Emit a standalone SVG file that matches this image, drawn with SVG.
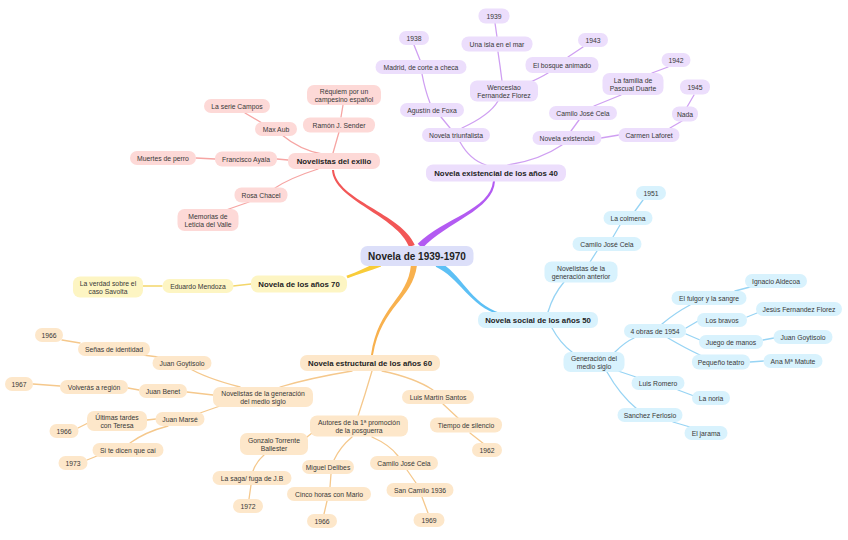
<svg xmlns="http://www.w3.org/2000/svg" width="848" height="540" viewBox="0 0 848 540">
<style>
text{font-family:"Liberation Sans",Arial,Helvetica,sans-serif;font-size:6.8px;fill:#383838;text-anchor:middle;dominant-baseline:central}
.main text{font-weight:bold;font-size:7.8px;fill:#232323}
#center text{font-weight:bold;font-size:10px;fill:#232323}
rect{rx:7px;ry:7px}
#center rect{fill:#dcdff9}
.red rect{fill:#fdd9d7}
.pur rect{fill:#ecdefc}
.yel rect{fill:#fdf5c3}
.blu rect{fill:#d8f2fd}
.ora rect{fill:#fde7ca}
#connectors path.c{fill:none;stroke-width:1.3;stroke-linecap:round}
.cr{stroke:#f6a5a3}
.cp{stroke:#cf9ff2}
.cy{stroke:#f3d66a}
.cb{stroke:#97d4f4}
.co{stroke:#f5c88c}
.br{stroke:none}
</style>
<rect x="0" y="0" width="848" height="540" fill="#ffffff" style="rx:0"/>
<g id="connectors">
<!-- red -->
<path class="c cr" d="M333,153 L339,132"/>
<path class="c cr" d="M341,117 L343,105"/>
<path class="c cr" d="M322,154 Q300,150 282,135"/>
<path class="c cr" d="M262,123 L245,113"/>
<path class="c cr" d="M288,160 L277,159"/>
<path class="c cr" d="M215,159 L196,158"/>
<path class="c cr" d="M318,169 Q290,178 275,188"/>
<path class="c cr" d="M249,202 L226,210"/>
<!-- purple -->
<path class="c cp" d="M486,165 Q470,160 460,142"/>
<path class="c cp" d="M508,165 Q540,160 562,145"/>
<path class="c cp" d="M450,128 L441,117"/>
<path class="c cp" d="M462,128 Q490,115 498,101"/>
<path class="c cp" d="M430,103 Q425,90 422,74"/>
<path class="c cp" d="M420,60 L414,45"/>
<path class="c cp" d="M502,81 Q500,65 498,52"/>
<path class="c cp" d="M497,37 L495,23"/>
<path class="c cp" d="M528,83 Q540,78 548,73"/>
<path class="c cp" d="M568,57 L583,47"/>
<path class="c cp" d="M571,131 L579,120"/>
<path class="c cp" d="M594,106 L621,95"/>
<path class="c cp" d="M652,73 L668,67"/>
<path class="c cp" d="M601,138 L619,135"/>
<path class="c cp" d="M670,128 L682,121"/>
<path class="c cp" d="M687,107 L694,95"/>
<!-- yellow -->
<path class="c cy" d="M251,284 L233,286"/>
<path class="c cy" d="M162,286 L143,286"/>
<!-- blue -->
<path class="c cb" d="M548,312 Q553,295 564,282"/>
<path class="c cb" d="M590,262 L597,251"/>
<path class="c cb" d="M613,237 L620,225"/>
<path class="c cb" d="M635,211 L643,200"/>
<path class="c cb" d="M552,328 Q560,343 572,352"/>
<path class="c cb" d="M615,352 Q625,342 634,338"/>
<path class="c cb" d="M662,324 Q675,313 690,305"/>
<path class="c cb" d="M686,328 L698,321"/>
<path class="c cb" d="M686,334 L700,340"/>
<path class="c cb" d="M668,338 Q685,348 700,355"/>
<path class="c cb" d="M735,291 L750,287"/>
<path class="c cb" d="M747,317 L757,313"/>
<path class="c cb" d="M763,340 L774,338"/>
<path class="c cb" d="M750,362 L764,361"/>
<path class="c cb" d="M618,371 L636,377"/>
<path class="c cb" d="M678,390 L694,396"/>
<path class="c cb" d="M607,372 Q620,395 637,409"/>
<path class="c cb" d="M673,422 L690,427"/>
<!-- orange -->
<path class="c co" d="M352,371 Q310,378 280,387"/>
<path class="c co" d="M372,371 Q365,395 358,416"/>
<path class="c co" d="M382,371 Q415,378 433,390"/>
<path class="c co" d="M443,404 L458,418"/>
<path class="c co" d="M470,433 L484,444"/>
<path class="c co" d="M240,387 Q205,378 187,367"/>
<path class="c co" d="M213,395 L187,392"/>
<path class="c co" d="M220,406 L200,413"/>
<path class="c co" d="M158,357 L143,355"/>
<path class="c co" d="M80,343 L62,340"/>
<path class="c co" d="M139,390 L128,388"/>
<path class="c co" d="M60,386 L33,384"/>
<path class="c co" d="M156,419 L147,420"/>
<path class="c co" d="M88,423 L78,428"/>
<path class="c co" d="M168,426 Q145,432 130,443"/>
<path class="c co" d="M97,456 L87,460"/>
<path class="c co" d="M312,433 L307,437"/>
<path class="c co" d="M264,455 Q256,462 253,471"/>
<path class="c co" d="M251,485 L249,499"/>
<path class="c co" d="M352,437 Q340,447 334,460"/>
<path class="c co" d="M331,474 L330,487"/>
<path class="c co" d="M327,501 L324,514"/>
<path class="c co" d="M372,437 Q390,445 398,456"/>
<path class="c co" d="M407,470 L416,483"/>
<path class="c co" d="M422,497 L428,513"/>
<!-- main branches (tapered) -->
<path class="br" fill="#f25757" d="M414.8,244.9 C401.9,213.8 336.5,199.9 334,170 L332,170 C333.5,200.1 398.1,216.2 409.2,247.1 Z"/>
<path class="br" fill="#b35bf2" d="M422.3,248.2 C446.8,221.8 493.5,210.1 495,181 L493,181 C490.5,209.9 443.2,218.2 417.7,243.8 Z"/>
<path class="br" fill="#f8cc3a" d="M381.2,266.6 C368.8,271 358.6,274.4 347.6,278.2 L346.4,275.8 C357.4,271.6 367.2,267 378.8,261.4 Z"/>
<path class="br" fill="#f8b14e" d="M417,265.3 C412.4,300.2 381.6,305.2 373,355.1 L371,354.9 C378.4,304.8 407.6,299.8 411,264.7 Z"/>
<path class="br" fill="#5dc0f5" d="M435.7,266.8 C459,277 469.6,306.4 499.7,315 L500.3,313 C470.4,303.6 461,273 438.3,261.2 Z"/>
</g>

<g id="center"><rect x="360.5" y="246" width="113" height="20"/><text x="417" y="256">Novela de 1939-1970</text></g>

<!-- red -->
<g id="n_exilio" class="main red"><rect x="288" y="153" width="92" height="16"/><text x="334" y="161">Novelistas del exilio</text></g>
<g id="r_requiem" class="red"><rect x="307" y="85" width="74" height="20"/><text x="344" y="95"><tspan x="344" dy="-4.2">Réquiem por un</tspan><tspan x="344" dy="8.4">campesino español</tspan></text></g>
<g id="r_sender" class="red"><rect x="303" y="117.5" width="72" height="15"/><text x="339" y="125">Ramón J. Sender</text></g>
<g id="r_campos" class="red"><rect x="204" y="99" width="66" height="14"/><text x="237" y="106">La serie Campos</text></g>
<g id="r_aub" class="red"><rect x="255" y="122" width="42" height="14"/><text x="276" y="129">Max Aub</text></g>
<g id="r_muertes" class="red"><rect x="130" y="151" width="66" height="14"/><text x="163" y="158">Muertes de perro</text></g>
<g id="r_ayala" class="red"><rect x="215" y="151.5" width="62" height="15"/><text x="246" y="159">Francisco Ayala</text></g>
<g id="r_chacel" class="red"><rect x="234.5" y="187.5" width="53" height="15"/><text x="261" y="195">Rosa Chacel</text></g>
<g id="r_memorias" class="red"><rect x="177.5" y="209" width="61" height="22"/><text x="208" y="220"><tspan x="208" dy="-4.2">Memorias de</tspan><tspan x="208" dy="8.4">Leticia del Valle</tspan></text></g>

<!-- purple -->
<g id="n_40" class="main pur"><rect x="426" y="164.5" width="140" height="17"/><text x="496" y="173">Novela existencial de los años 40</text></g>
<g id="p_1938" class="pur"><rect x="399" y="31" width="30" height="14"/><text x="414" y="38">1938</text></g>
<g id="p_madrid" class="pur"><rect x="375.5" y="60" width="91" height="14"/><text x="421" y="67">Madrid, de corte a checa</text></g>
<g id="p_foxa" class="pur"><rect x="400" y="103" width="64" height="14"/><text x="432" y="110">Agustín de Foxa</text></g>
<g id="p_triunf" class="pur"><rect x="422" y="128" width="68" height="14"/><text x="456" y="135">Novela triunfalista</text></g>
<g id="p_1939" class="pur"><rect x="478.5" y="8.5" width="31" height="15"/><text x="494" y="16">1939</text></g>
<g id="p_isla" class="pur"><rect x="461.5" y="36.5" width="71" height="15"/><text x="497" y="44">Una isla en el mar</text></g>
<g id="p_wenc" class="pur"><rect x="470" y="80.5" width="68" height="21"/><text x="504" y="91"><tspan x="504" dy="-4.2">Wenceslao</tspan><tspan x="504" dy="8.4">Fernandez Florez</tspan></text></g>
<g id="p_bosque" class="pur"><rect x="525.5" y="57" width="73" height="16"/><text x="562" y="65">El bosque animado</text></g>
<g id="p_1943" class="pur"><rect x="578" y="33" width="30" height="14"/><text x="593" y="40">1943</text></g>
<g id="p_1942" class="pur"><rect x="661.5" y="53" width="29" height="14"/><text x="676" y="60">1942</text></g>
<g id="p_familia" class="pur"><rect x="602.5" y="73" width="61" height="22"/><text x="633" y="84"><tspan x="633" dy="-4.2">La familia de</tspan><tspan x="633" dy="8.4">Pascual Duarte</tspan></text></g>
<g id="p_cela" class="pur"><rect x="549" y="106" width="68" height="14"/><text x="583" y="113">Camilo José Cela</text></g>
<g id="p_exist" class="pur"><rect x="532.5" y="131" width="69" height="14"/><text x="567" y="138">Novela existencial</text></g>
<g id="p_1945" class="pur"><rect x="680" y="79.5" width="30" height="15"/><text x="695" y="87">1945</text></g>
<g id="p_nada" class="pur"><rect x="672" y="106.5" width="26" height="15"/><text x="685" y="114">Nada</text></g>
<g id="p_laforet" class="pur"><rect x="618.5" y="128" width="61" height="14"/><text x="649" y="135">Carmen Laforet</text></g>

<!-- yellow -->
<g id="n_70" class="main yel"><rect x="251" y="275.5" width="96" height="17"/><text x="299" y="284">Novela de los años 70</text></g>
<g id="y_mendoza" class="yel"><rect x="162.5" y="279" width="71" height="14"/><text x="198" y="286">Eduardo Mendoza</text></g>
<g id="y_verdad" class="yel"><rect x="73" y="276.5" width="70" height="21"/><text x="108" y="287"><tspan x="108" dy="-4.2">La verdad sobre el</tspan><tspan x="108" dy="8.4">caso Savolta</tspan></text></g>

<!-- blue -->
<g id="n_50" class="main blu"><rect x="478" y="312" width="120" height="16"/><text x="538" y="320">Novela social de los años 50</text></g>
<g id="b_1951" class="blu"><rect x="636" y="186" width="30" height="14"/><text x="651" y="193">1951</text></g>
<g id="b_colmena" class="blu"><rect x="603.5" y="211" width="49" height="14"/><text x="628" y="218">La colmena</text></g>
<g id="b_cela" class="blu"><rect x="572.5" y="237" width="69" height="14"/><text x="607" y="244">Camilo José Cela</text></g>
<g id="b_anterior" class="blu"><rect x="544.5" y="261.5" width="73" height="21"/><text x="581" y="272"><tspan x="581" dy="-4.2">Novelistas de la</tspan><tspan x="581" dy="8.4">generación anterior</tspan></text></g>
<g id="b_aldecoa" class="blu"><rect x="745" y="274" width="62" height="14"/><text x="776" y="281">Ignacio Aldecoa</text></g>
<g id="b_fulgor" class="blu"><rect x="671.5" y="291" width="75" height="14"/><text x="709" y="298">El fulgor y la sangre</text></g>
<g id="b_bravos" class="blu"><rect x="697" y="313" width="50" height="14"/><text x="722" y="320">Los bravos</text></g>
<g id="b_jesus" class="blu"><rect x="756" y="302" width="86" height="14"/><text x="799" y="309">Jesús Fernandez Florez</text></g>
<g id="b_4obras" class="blu"><rect x="624" y="324" width="62" height="14"/><text x="655" y="331">4 obras de 1954</text></g>
<g id="b_juego" class="blu"><rect x="699" y="335" width="64" height="14"/><text x="731" y="342">Juego de manos</text></g>
<g id="b_goyt" class="blu"><rect x="773.5" y="330" width="59" height="14"/><text x="803" y="337">Juan Goytisolo</text></g>
<g id="b_pequeno" class="blu"><rect x="692" y="354.5" width="58" height="15"/><text x="721" y="362">Pequeño teatro</text></g>
<g id="b_matute" class="blu"><rect x="763.5" y="354" width="59" height="14"/><text x="793" y="361">Ana Mª Matute</text></g>
<g id="b_medio" class="blu"><rect x="563.5" y="352" width="61" height="20"/><text x="594" y="362"><tspan x="594" dy="-4.2">Generación del</tspan><tspan x="594" dy="8.4">medio siglo</tspan></text></g>
<g id="b_romero" class="blu"><rect x="631.5" y="376" width="53" height="14"/><text x="658" y="383">Luis Romero</text></g>
<g id="b_noria" class="blu"><rect x="692" y="391" width="38" height="14"/><text x="711" y="398">La noria</text></g>
<g id="b_ferlosio" class="blu"><rect x="617.5" y="408" width="65" height="14"/><text x="650" y="415">Sanchez Ferlosio</text></g>
<g id="b_jarama" class="blu"><rect x="684.5" y="426" width="43" height="14"/><text x="706" y="433">El jarama</text></g>

<!-- orange -->
<g id="n_60" class="main ora"><rect x="300" y="355" width="140" height="16"/><text x="370" y="363">Novela estructural de los años 60</text></g>
<g id="o_1966c" class="ora"><rect x="35" y="328" width="28" height="14"/><text x="49" y="335">1966</text></g>
<g id="o_senas" class="ora"><rect x="78" y="342" width="72" height="14"/><text x="114" y="349">Señas de identidad</text></g>
<g id="o_goyt" class="ora"><rect x="152.5" y="356" width="59" height="14"/><text x="182" y="363">Juan Goytisolo</text></g>
<g id="o_1967" class="ora"><rect x="5" y="377" width="28" height="14"/><text x="19" y="384">1967</text></g>
<g id="o_volveras" class="ora"><rect x="60" y="380" width="68" height="14"/><text x="94" y="387">Volverás a región</text></g>
<g id="o_benet" class="ora"><rect x="139" y="384" width="48" height="14"/><text x="163" y="391">Juan Benet</text></g>
<g id="o_medio" class="ora"><rect x="213" y="387" width="100" height="20"/><text x="263" y="397"><tspan x="263" dy="-4.2">Novelistas de la generación</tspan><tspan x="263" dy="8.4">del medio siglo</tspan></text></g>
<g id="o_marse" class="ora"><rect x="155.5" y="412" width="49" height="14"/><text x="180" y="419">Juan Marsé</text></g>
<g id="o_ultimas" class="ora"><rect x="87" y="411" width="60" height="20"/><text x="117" y="421"><tspan x="117" dy="-4.2">Últimas tardes</tspan><tspan x="117" dy="8.4">con Teresa</tspan></text></g>
<g id="o_1966a" class="ora"><rect x="49.5" y="424" width="29" height="14"/><text x="64" y="431">1966</text></g>
<g id="o_sile" class="ora"><rect x="92.5" y="443" width="71" height="14"/><text x="128" y="450">Si te dicen que caí</text></g>
<g id="o_1973" class="ora"><rect x="58.5" y="456" width="29" height="14"/><text x="73" y="463">1973</text></g>
<g id="o_santos" class="ora"><rect x="402" y="390" width="72" height="14"/><text x="438" y="397">Luis Martín Santos</text></g>
<g id="o_tiempo" class="ora"><rect x="430" y="417.5" width="72" height="15"/><text x="466" y="425">Tiempo de silencio</text></g>
<g id="o_1962" class="ora"><rect x="472" y="443" width="30" height="14"/><text x="487" y="450">1962</text></g>
<g id="o_autores" class="ora"><rect x="310" y="415.5" width="98" height="21"/><text x="359" y="426"><tspan x="359" dy="-4.2">Autores de la 1ª promoción</tspan><tspan x="359" dy="8.4">de la posguerra</tspan></text></g>
<g id="o_gonzalo" class="ora"><rect x="240" y="433" width="68" height="22"/><text x="274" y="444"><tspan x="274" dy="-4.2">Gonzalo Torrente</tspan><tspan x="274" dy="8.4">Ballester</tspan></text></g>
<g id="o_saga" class="ora"><rect x="212.5" y="471" width="79" height="14"/><text x="252" y="478">La saga/ fuga de J.B</text></g>
<g id="o_1972" class="ora"><rect x="233" y="499" width="30" height="14"/><text x="248" y="506">1972</text></g>
<g id="o_delibes" class="ora"><rect x="302" y="460" width="52" height="14"/><text x="328" y="467">Miguel Delibes</text></g>
<g id="o_cinco" class="ora"><rect x="287" y="487" width="84" height="14"/><text x="329" y="494">Cinco horas con Mario</text></g>
<g id="o_1966b" class="ora"><rect x="307" y="514" width="30" height="14"/><text x="322" y="521">1966</text></g>
<g id="o_cela" class="ora"><rect x="370" y="456" width="68" height="14"/><text x="404" y="463">Camilo José Cela</text></g>
<g id="o_sancamilo" class="ora"><rect x="386.5" y="483" width="67" height="14"/><text x="420" y="490">San Camilo 1936</text></g>
<g id="o_1969" class="ora"><rect x="413.5" y="513" width="31" height="14"/><text x="429" y="520">1969</text></g>
</svg>
